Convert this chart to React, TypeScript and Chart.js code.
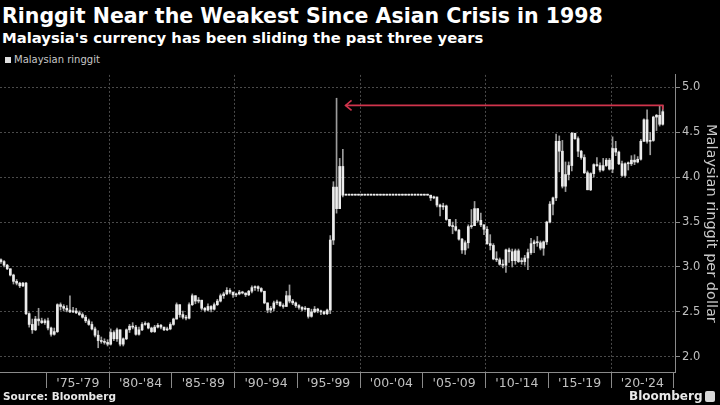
import React, { useEffect, useRef } from "react";
import { Chart, registerables } from "chart.js";

Chart.register(...registerables);

const TITLE = "Ringgit Near the Weakest Since Asian Crisis in 1998";
const SUBTITLE = "Malaysia's currency has been sliding the past three years";
const SERIES_NAME = "Malaysian ringgit";
const Y_TITLE = "Malaysian ringgit per dollar";
const SOURCE = "Source: Bloomberg";
const BRAND = "Bloomberg";

// Quarterly candles, starting 1971 Q2
const FIRST_YEAR = 1971;
const FIRST_QUARTER = 2;
const FIRST_OPEN = 3.08;

const close = [
  3.06, 3.02, 2.98, 2.91, 2.84, 2.82, 2.79, 2.82, 2.48, 2.36,
  2.30, 2.42, 2.40, 2.38, 2.40, 2.32, 2.25, 2.28, 2.58, 2.56,
  2.54, 2.52, 2.50, 2.51, 2.49, 2.47, 2.44, 2.40, 2.36, 2.31,
  2.24, 2.18, 2.17, 2.16, 2.14, 2.27, 2.20, 2.30, 2.14, 2.20,
  2.30, 2.34, 2.33, 2.25, 2.30, 2.36, 2.37, 2.32, 2.28, 2.33,
  2.35, 2.33, 2.30, 2.31, 2.36, 2.42, 2.58, 2.47, 2.44, 2.43,
  2.58, 2.68, 2.62, 2.63, 2.54, 2.52, 2.56, 2.53, 2.58, 2.62,
  2.68, 2.70, 2.74, 2.72, 2.69, 2.70, 2.72, 2.71, 2.69, 2.73,
  2.77, 2.78, 2.76, 2.73, 2.60, 2.52, 2.54, 2.60, 2.61, 2.57,
  2.56, 2.68, 2.62, 2.60, 2.57, 2.55, 2.53, 2.54, 2.45, 2.50,
  2.53, 2.51, 2.50, 2.48, 2.52, 3.30, 3.89, 3.65, 4.12, 3.80,
  3.80, 3.80, 3.80, 3.80, 3.80, 3.80, 3.80, 3.80, 3.80, 3.80,
  3.80, 3.80, 3.80, 3.80, 3.80, 3.80, 3.80, 3.80, 3.80, 3.80,
  3.80, 3.80, 3.80, 3.80, 3.80, 3.80, 3.80,
  3.77, 3.78, 3.69,
  3.67, 3.68, 3.53, 3.46, 3.45, 3.41, 3.31, 3.19, 3.27, 3.45,
  3.46, 3.65, 3.52, 3.47, 3.42, 3.26, 3.24, 3.09, 3.08, 3.03,
  3.02, 3.19, 3.17, 3.07, 3.18, 3.06, 3.06, 3.10, 3.16, 3.26,
  3.28, 3.27, 3.21, 3.28, 3.50, 3.70, 3.77, 4.40, 4.29, 3.90,
  4.03, 4.13, 4.49, 4.43, 4.29, 4.22, 4.05, 3.86, 4.04, 4.14,
  4.13, 4.08, 4.13, 4.19, 4.09, 4.32, 4.28, 4.15, 4.02, 4.15,
  4.15, 4.19, 4.17, 4.20, 4.40, 4.64, 4.40, 4.41, 4.67, 4.69,
  4.59, 4.73,
];

const high = [
  3.09, 3.07, 3.03, 2.98, 2.92, 2.86, 2.83, 2.83, 2.83, 2.49,
  2.42, 2.45, 2.54, 2.43, 2.42, 2.43, 2.33, 2.32, 2.59, 2.60,
  2.58, 2.57, 2.68, 2.55, 2.54, 2.51, 2.49, 2.46, 2.42, 2.39,
  2.33, 2.29, 2.22, 2.20, 2.19, 2.31, 2.29, 2.32, 2.30, 2.21,
  2.31, 2.36, 2.38, 2.35, 2.33, 2.38, 2.39, 2.38, 2.33, 2.35,
  2.37, 2.36, 2.33, 2.33, 2.38, 2.43, 2.60, 2.58, 2.51, 2.46,
  2.60, 2.70, 2.68, 2.66, 2.63, 2.55, 2.59, 2.57, 2.60, 2.64,
  2.70, 2.72, 2.77, 2.76, 2.72, 2.71, 2.74, 2.73, 2.71, 2.74,
  2.79, 2.79, 2.79, 2.77, 2.73, 2.60, 2.56, 2.62, 2.63, 2.61,
  2.59, 2.73, 2.80, 2.64, 2.61, 2.58, 2.56, 2.56, 2.54, 2.53,
  2.56, 2.54, 2.52, 2.51, 2.53, 3.35, 3.95, 4.88, 4.21, 4.31,
  3.80, 3.80, 3.80, 3.80, 3.80, 3.80, 3.80, 3.80, 3.80, 3.80,
  3.80, 3.80, 3.80, 3.80, 3.80, 3.80, 3.80, 3.80, 3.80, 3.80,
  3.80, 3.80, 3.80, 3.80, 3.80, 3.80, 3.80,
  3.80, 3.79, 3.78,
  3.70, 3.71, 3.69, 3.53, 3.50, 3.53, 3.42, 3.32, 3.29, 3.47,
  3.64, 3.73, 3.65, 3.60, 3.47, 3.45, 3.36, 3.26, 3.17, 3.10,
  3.08, 3.20, 3.21, 3.20, 3.20, 3.20, 3.10, 3.13, 3.20, 3.32,
  3.30, 3.34, 3.29, 3.29, 3.51, 3.73, 3.78, 4.48, 4.46, 4.41,
  4.17, 4.17, 4.50, 4.49, 4.45, 4.30, 4.25, 4.07, 4.05, 4.15,
  4.22, 4.16, 4.21, 4.21, 4.21, 4.45, 4.40, 4.29, 4.18, 4.16,
  4.17, 4.24, 4.25, 4.23, 4.42, 4.65, 4.75, 4.50, 4.68, 4.70,
  4.79, 4.80,
];

const low = [
  3.04, 3.00, 2.97, 2.90, 2.81, 2.80, 2.77, 2.78, 2.47, 2.33,
  2.26, 2.29, 2.35, 2.37, 2.36, 2.30, 2.23, 2.24, 2.27, 2.52,
  2.51, 2.50, 2.49, 2.49, 2.48, 2.46, 2.43, 2.38, 2.35, 2.30,
  2.22, 2.10, 2.15, 2.14, 2.12, 2.13, 2.18, 2.17, 2.12, 2.12,
  2.19, 2.27, 2.31, 2.24, 2.24, 2.29, 2.35, 2.31, 2.27, 2.27,
  2.32, 2.31, 2.29, 2.29, 2.30, 2.35, 2.42, 2.44, 2.42, 2.41,
  2.42, 2.57, 2.59, 2.60, 2.52, 2.50, 2.51, 2.50, 2.52, 2.57,
  2.61, 2.65, 2.69, 2.70, 2.66, 2.67, 2.69, 2.70, 2.67, 2.68,
  2.71, 2.74, 2.73, 2.72, 2.59, 2.49, 2.49, 2.51, 2.58, 2.56,
  2.54, 2.56, 2.60, 2.58, 2.55, 2.53, 2.51, 2.52, 2.43, 2.44,
  2.49, 2.49, 2.47, 2.47, 2.47, 2.48, 3.25, 3.60, 3.65, 3.78,
  3.80, 3.80, 3.80, 3.80, 3.80, 3.80, 3.80, 3.80, 3.80, 3.80,
  3.80, 3.80, 3.80, 3.80, 3.80, 3.80, 3.80, 3.80, 3.80, 3.80,
  3.80, 3.80, 3.80, 3.80, 3.80, 3.80, 3.80,
  3.74, 3.76, 3.67,
  3.57, 3.64, 3.52, 3.45, 3.37, 3.40, 3.30, 3.15, 3.14, 3.21,
  3.43, 3.46, 3.50, 3.45, 3.36, 3.25, 3.19, 3.08, 3.06, 3.02,
  2.99, 2.94, 3.05, 3.00, 3.03, 3.05, 3.03, 3.02, 2.97, 3.14,
  3.16, 3.23, 3.19, 3.13, 3.25, 3.49, 3.58, 3.74, 4.06, 3.88,
  3.84, 3.97, 4.07, 4.42, 4.23, 4.20, 4.04, 3.86, 3.85, 4.00,
  4.12, 4.06, 4.07, 4.12, 4.08, 4.05, 4.24, 4.14, 4.01, 4.00,
  4.08, 4.13, 4.14, 4.16, 4.19, 4.40, 4.38, 4.25, 4.40, 4.52,
  4.57, 4.58,
];

const periodStarts = [1975, 1980, 1985, 1990, 1995, 2000, 2005, 2010, 2015, 2020];
const periodLabels = ["'75-'79", "'80-'84", "'85-'89", "'90-'94", "'95-'99", "'00-'04", "'05-'09", "'10-'14", "'15-'19", "'20-'24"];
const gridYears = [1980, 1990, 2000, 2010, 2020];
const yTicks = [2.0, 2.5, 3.0, 3.5, 4.0, 4.5, 5.0];

const X_MIN = 1971.3;
const X_MAX = 2025.1;
const Y_MIN = 1.83;
const Y_MAX = 5.14;

const quarterX = (i: number) => FIRST_YEAR + (FIRST_QUARTER - 1 + i) / 4 + 0.125;

export default function App() {
  const canvasRef = useRef<HTMLCanvasElement | null>(null);

  useEffect(() => {
    document.body.style.margin = "0";
    document.body.style.background = "#000";
    const canvas = canvasRef.current;
    if (!canvas) return;

    const open = close.map((_, i) => (i === 0 ? FIRST_OPEN : close[i - 1]));
    const wickData = close.map((_, i) => ({ x: quarterX(i), y: [low[i], high[i]] }));
    const bodyData = close.map((c, i) => ({ x: quarterX(i), y: [open[i], c] }));

    let peakIdx = 0;
    high.forEach((h, i) => { if (h > high[peakIdx]) peakIdx = i; });
    const lastIdx = close.length - 1;
    const arrowLevel = high[lastIdx];

    const xTickValues: number[] = [];
    periodStarts.forEach((s) => { xTickValues.push(s, s + 2.5); });
    xTickValues.push(2025);

    const arrowPlugin = {
      id: "arrowPlugin",
      afterDatasetsDraw(chart: any) {
        const { ctx, scales } = chart;
        const xs = scales.x, ys = scales.y;
        const yPix = ys.getPixelForValue(arrowLevel);
        const xRight = xs.getPixelForValue(quarterX(lastIdx));
        const xLeft = xs.getPixelForValue(quarterX(peakIdx)) + 9;
        ctx.save();
        ctx.strokeStyle = "#d0344c";
        ctx.lineWidth = 1.6;
        ctx.beginPath();
        ctx.moveTo(xRight, yPix + 4);
        ctx.lineTo(xRight, yPix);
        ctx.lineTo(xLeft, yPix);
        ctx.stroke();
        ctx.beginPath();
        ctx.moveTo(xLeft + 6, yPix - 5);
        ctx.lineTo(xLeft, yPix);
        ctx.lineTo(xLeft + 6, yPix + 5);
        ctx.stroke();
        ctx.restore();
      },
    };

    const chart = new Chart(canvas, {
      type: "bar",
      data: {
        datasets: [
          {
            label: "body",
            data: bodyData as any,
            backgroundColor: "#ececec",
            borderWidth: 0,
            barThickness: 2,
            minBarLength: 1,
            grouped: false,
            order: 0,
          } as any,
          {
            label: "wick",
            data: wickData as any,
            backgroundColor: "#9c9c9c",
            borderWidth: 0,
            barThickness: 1,
            minBarLength: 1,
            grouped: false,
            order: 1,
          } as any,
        ],
      },
      options: {
        responsive: false,
        animation: false,
        events: [],
        layout: { padding: 0 },
        plugins: { legend: { display: false }, tooltip: { enabled: false } },
        scales: {
          x: {
            type: "linear",
            min: X_MIN,
            max: X_MAX,
            offset: false,
            afterBuildTicks: (scale: any) => {
              scale.ticks = xTickValues.map((v) => ({ value: v }));
            },
            afterFit: (scale: any) => { scale.height = 20; },
            grid: {
              offset: false,
              color: (c: any) => (c.tick && gridYears.includes(c.tick.value) ? "#4a4a4a" : "rgba(0,0,0,0)"),
              tickColor: (c: any) => (c.tick && Number.isInteger(c.tick.value) ? "#8a8a8a" : "rgba(0,0,0,0)"),
              tickLength: 16,
              tickBorderDash: [],
              drawTicks: true,
            },
            border: { display: true, color: "#8a8a8a", width: 1, dash: [2, 2] },
            ticks: {
              autoSkip: false,
              maxRotation: 0,
              minRotation: 0,
              padding: -12,
              color: "#c0c0c0",
              font: { family: "DejaVu Sans", size: 12.5 },
              callback: (v: any) => {
                const k = periodStarts.findIndex((s) => s + 2.5 === Number(v));
                return k >= 0 ? periodLabels[k] : "";
              },
            },
          },
          y: {
            type: "linear",
            position: "right",
            min: Y_MIN,
            max: Y_MAX,
            afterBuildTicks: (scale: any) => {
              scale.ticks = yTicks.map((v) => ({ value: v }));
            },
            afterFit: (scale: any) => { scale.width = 45; },
            grid: {
              color: "#4a4a4a",
              tickColor: "#8a8a8a",
              tickLength: 5,
              tickBorderDash: [],
            },
            border: { display: true, color: "#8a8a8a", width: 1, dash: [2, 2] },
            ticks: {
              padding: 2,
              color: "#c0c0c0",
              font: { family: "DejaVu Sans", size: 11.5, lineHeight: 1.2 },
              callback: (v: any) => Number(v).toFixed(1),
            },
            title: {
              display: true,
              text: Y_TITLE,
              color: "#c8c8c8",
              font: { family: "DejaVu Sans", size: 14.5 },
              padding: { top: 1, bottom: 0 },
            },
          },
        },
      },
      plugins: [arrowPlugin],
    });

    return () => chart.destroy();
  }, []);

  const abs = (s: React.CSSProperties): React.CSSProperties => ({ position: "absolute", whiteSpace: "nowrap", ...s });

  return (
    <div style={{ position: "relative", width: 720, height: 405, background: "#000", overflow: "hidden" }}>
      <div style={abs({ left: 2, top: 4, fontFamily: "DejaVu Sans", fontWeight: 700, fontSize: 20.5, lineHeight: "24px", color: "#fff" })}>{TITLE}</div>
      <div style={abs({ left: 2, top: 29, fontFamily: "DejaVu Sans", fontWeight: 700, fontSize: 14.8, lineHeight: "18px", color: "#fff" })}>{SUBTITLE}</div>
      <div style={abs({ left: 5, top: 57, width: 6, height: 6, background: "#e0e0e0" })} />
      <div style={abs({ left: 14, top: 54, fontFamily: "DejaVu Sans", fontSize: 10, lineHeight: "12px", color: "#c8c8c8" })}>{SERIES_NAME}</div>
      <canvas ref={canvasRef} width={720} height={326} style={{ position: "absolute", left: 0, top: 66, width: 720, height: 326 }} />
      <div style={abs({ left: 3, top: 390, fontFamily: "DejaVu Sans", fontWeight: 700, fontSize: 10.5, lineHeight: "13px", color: "#e8e8e8" })}>{SOURCE}</div>
      <div style={abs({ left: 629, top: 389, fontFamily: "DejaVu Sans", fontWeight: 700, fontSize: 12, lineHeight: "15px", color: "#e8e8e8" })}>{BRAND}</div>
      <div style={abs({ left: 705, top: 391, width: 10, height: 11, background: "#d8d8d8", borderRadius: 2 })} />
    </div>
  );
}
